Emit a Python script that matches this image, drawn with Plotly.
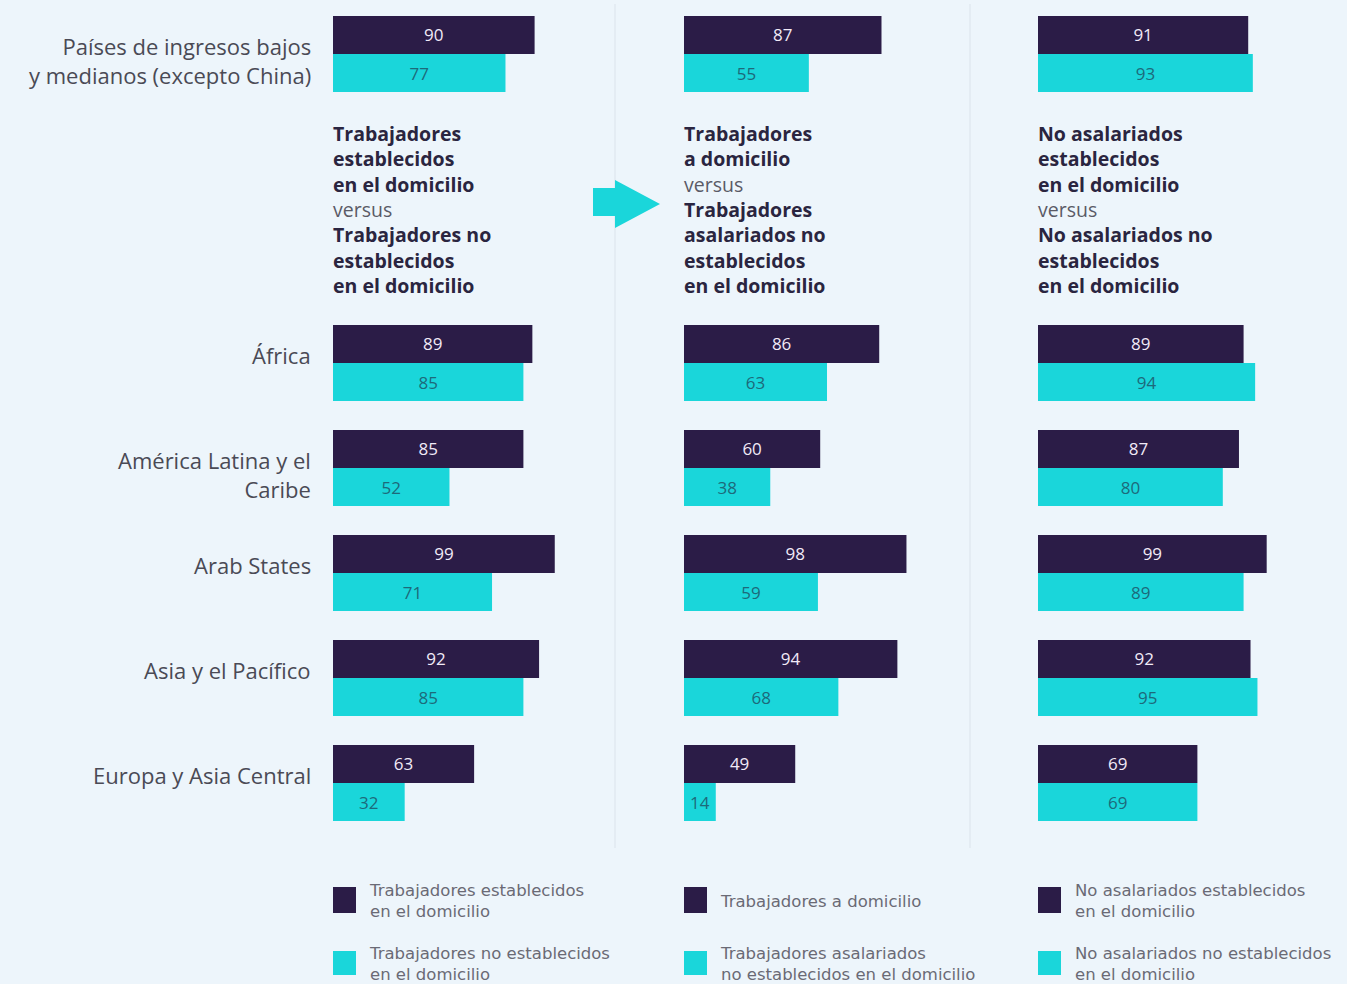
import plotly.graph_objects as go

# ---------------- data ----------------
categories = ["Países de ingresos bajos y medianos (excepto China)", "África",
              "América Latina y el Caribe", "Arab States", "Asia y el Pacífico",
              "Europa y Asia Central"]
tick_labels = ["Países de ingresos bajos<br>y medianos (excepto China)", "África",
               "América Latina y el<br>Caribe", "Arab States", "Asia y el Pacífico",
               "Europa y Asia Central"]

p1_dark = [90, 89, 85, 99, 92, 63]
p1_cyan = [77, 85, 52, 71, 85, 32]
p2_dark = [87, 86, 60, 98, 94, 49]
p2_cyan = [55, 63, 38, 59, 68, 14]
p3_dark = [91, 89, 87, 99, 92, 69]
p3_cyan = [93, 94, 80, 89, 95, 69]

legend_dark = ["Trabajadores establecidos<br>en el domicilio",
               "Trabajadores a domicilio",
               "No asalariados establecidos<br>en el domicilio"]
legend_cyan = ["Trabajadores no establecidos<br>en el domicilio",
               "Trabajadores asalariados<br>no establecidos en el domicilio",
               "No asalariados no establecidos<br>en el domicilio"]

VS = "<span style='color:#5a5a66'>versus</span>"
panel_titles = [
    "<b>Trabajadores<br>establecidos<br>en el domicilio</b><br>" + VS + "<br><b>Trabajadores no<br>establecidos<br>en el domicilio</b>",
    "<b>Trabajadores<br>a domicilio</b><br>" + VS + "<br><b>Trabajadores<br>asalariados no<br>establecidos<br>en el domicilio</b>",
    "<b>No asalariados<br>establecidos<br>en el domicilio</b><br>" + VS + "<br><b>No asalariados no<br>establecidos<br>en el domicilio</b>",
]

# ---------------- style ----------------
W, H = 1347, 984
BG = "#edf5fb"
DARK = "#2b1c47"
CYAN = "#1ad6da"
FONT = "Open Sans"

def px_x(p):
    return p / W

def px_y(p):
    return 1 - p / H

# panel x-extents in pixels (start, end for value 100)
panel_x = [(333, 557), (684, 911), (1038, 1269)]
top_dom = [px_y(106.5), px_y(1.5)]
bot_dom = [px_y(835.5), px_y(310.5)]

fig = go.Figure()
series = [(p1_dark, p1_cyan), (p2_dark, p2_cyan), (p3_dark, p3_cyan)]

annotations = []
layout_axes = {}
for i, (dark, cyan) in enumerate(series):
    for row in range(2):
        idx = i + 1 + 3 * row
        xa = "x" if idx == 1 else f"x{idx}"
        ya = "y" if idx == 1 else f"y{idx}"
        if row == 0:
            cats, dv, cv, labs = categories[:1], dark[:1], cyan[:1], tick_labels[:1]
        else:
            cats, dv, cv, labs = categories[1:], dark[1:], cyan[1:], tick_labels[1:]
        fig.add_trace(go.Bar(
            y=cats, x=dv, orientation="h", xaxis=xa, yaxis=ya,
            marker=dict(color=DARK, line=dict(width=0)),
            text=dv, textposition="inside", insidetextanchor="middle",
            textangle=0, constraintext="none",
            textfont=dict(color="#f1eaf7", size=17, family=FONT),
            showlegend=False, hoverinfo="x+y",
        ))
        fig.add_trace(go.Bar(
            y=cats, x=cv, orientation="h", xaxis=xa, yaxis=ya,
            marker=dict(color=CYAN, line=dict(width=0)),
            text=cv, textposition="inside", insidetextanchor="middle",
            textangle=0, constraintext="none",
            textfont=dict(color="#1d6a7a", size=17, family=FONT),
            showlegend=False, hoverinfo="x+y",
        ))
        x0, x1 = panel_x[i]
        layout_axes["xaxis" if idx == 1 else f"xaxis{idx}"] = dict(
            domain=[px_x(x0), px_x(x1)], range=[0, 100], anchor=ya,
            visible=False, fixedrange=True)
        layout_axes["yaxis" if idx == 1 else f"yaxis{idx}"] = dict(
            domain=top_dom if row == 0 else bot_dom, anchor=xa,
            autorange="reversed", showgrid=False, zeroline=False,
            showline=False, ticks="", showticklabels=False, fixedrange=True,
        )
        # category labels, placed on the category positions of the y axis
        if i == 0:
            for c, lab in zip(cats, labs):
                annotations.append(dict(
                    xref="paper", yref=ya, x=px_x(313), y=c,
                    xanchor="right", yanchor="top", align="right",
                    yshift=25, showarrow=False, text=lab,
                    font=dict(size=22, color="#4a4a55", family=FONT)))

fig.update_layout(**layout_axes)

shapes = []

# dividers
for xd in (615, 970):
    shapes.append(dict(type="line", xref="paper", yref="paper",
                       x0=px_x(xd), x1=px_x(xd), y0=px_y(848), y1=px_y(4),
                       line=dict(color="#e0e8f0", width=1.5)))

# arrow
pts = [(593, 188), (615, 188), (615, 180), (660, 204), (615, 228), (615, 216), (593, 216)]
path = "M " + " L ".join(f"{px_x(a):.5f},{px_y(b):.5f}" for a, b in pts) + " Z"
shapes.append(dict(type="path", xref="paper", yref="paper", path=path,
                   fillcolor=CYAN, line=dict(width=0)))

# panel descriptor annotations
for i, t in enumerate(panel_titles):
    annotations.append(dict(
        xref="paper", yref="paper", x=px_x(panel_x[i][0] - 2), y=px_y(118),
        xanchor="left", yanchor="top", align="left", showarrow=False,
        text=t, font=dict(size=19.5, color="#2a2540", family=FONT)))

# custom legend
leg_x = [(333, 369), (684, 720), (1038, 1075)]
for i in range(3):
    sx, tx = leg_x[i]
    for (y0, y1, col, label) in ((887, 913, DARK, legend_dark[i]),
                                 (951, 975, CYAN, legend_cyan[i])):
        shapes.append(dict(type="rect", xref="paper", yref="paper",
                           x0=px_x(sx), x1=px_x(sx + 23), y0=px_y(y1), y1=px_y(y0),
                           fillcolor=col, line=dict(width=0)))
        annotations.append(dict(
            xref="paper", yref="paper", x=px_x(tx - 2), y=px_y((y0 + y1) / 2 + 1),
            xanchor="left", yanchor="middle", align="left", showarrow=False,
            text=label, font=dict(size=16.5, color="#6a6a75", family="DejaVu Sans")))

fig.update_layout(
    width=W, height=H, margin=dict(l=0, r=0, t=0, b=0),
    paper_bgcolor=BG, plot_bgcolor=BG,
    barmode="group", bargap=0.276, bargroupgap=0,
    shapes=shapes, annotations=annotations,
    font=dict(family=FONT),
    showlegend=False,
)

fig.write_html(
    "out.html",
    config={"displayModeBar": False},
    post_script="document.body.style.margin='0';document.body.style.overflow='hidden';"
                "document.body.style.background='" + BG + "';",
)
